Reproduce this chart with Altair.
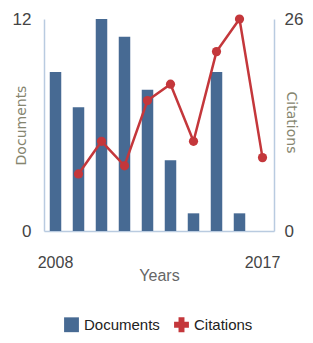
import altair as alt
import pandas as pd

years = [2008, 2009, 2010, 2011, 2012, 2013, 2014, 2015, 2016, 2017]
documents = [9, 7, 12, 11, 8, 4, 1, 9, 1, 0]
citations = [None, 7, 11, 8, 16, 18, 11, 22, 26, 9]
series_names = ["Documents", "Citations"]
series_colors = ["#476a93", "#c4373b"]

df = pd.DataFrame({"Year": years, "Documents": documents, "Citations": citations})

FONT = "Liberation Sans, Arial, sans-serif"
TITLE_FONT = "DejaVu Sans, sans-serif"
AXIS_LINE = "#b9cbe0"

legend_def = alt.Legend(
    title=None, orient="none", direction="horizontal", legendX=20, legendY=298,
    labelFont=FONT, labelFontSize=15, labelColor="#222", symbolSize=220,
    symbolStrokeWidth=0, symbolOpacity=1, columnPadding=14, labelOffset=5, padding=0,
)

x_enc = alt.X(
    "Year:O",
    scale=alt.Scale(paddingInner=0.5, paddingOuter=0.25),
    axis=alt.Axis(
        values=[2008, 2017], labelAngle=0, ticks=False, labelPadding=23,
        labelFont=FONT, labelFontSize=16, labelColor="#444",
        title="Years", titleFont=FONT, titleFontSize=16, titleFontWeight="normal",
        titleColor="#666", titleY=36, titleBaseline="top",
        domainColor=AXIS_LINE, domainWidth=1.5, grid=False,
    ),
)

color_enc = alt.Color(
    "series:N",
    scale=alt.Scale(domain=series_names, range=series_colors),
    legend=legend_def,
)

shape_enc = alt.Shape(
    "series:N",
    scale=alt.Scale(domain=series_names, range=["square", "cross"]),
    legend=legend_def,
)

y_doc = alt.Y(
    "Documents:Q",
    scale=alt.Scale(domain=[0, 12], nice=False),
    axis=alt.Axis(
        orient="left", values=[0, 12], ticks=False, grid=False, labelPadding=13,
        labelFont=FONT, labelFontSize=17, labelColor="#444",
        title="Documents", titleFont=TITLE_FONT, titleFontSize=14, titleFontWeight="normal",
        titleColor="#85856f", titleAngle=270, titleX=-23, titleY=106,
        titleAlign="center", titleBaseline="middle",
        domainColor=AXIS_LINE, domainWidth=1.5,
    ),
)

y_cit = alt.Y(
    "Citations:Q",
    scale=alt.Scale(domain=[0, 26], nice=False),
    axis=alt.Axis(
        orient="right", values=[0, 26], ticks=False, grid=False, labelPadding=10,
        labelFont=FONT, labelFontSize=17, labelColor="#444",
        title="Citations", titleFont=TITLE_FONT, titleFontSize=14, titleFontWeight="normal",
        titleColor="#85856f", titleAngle=90, titleX=16, titleY=103,
        titleAlign="center", titleBaseline="middle",
        domainColor=AXIS_LINE, domainWidth=1.5,
    ),
)

base = alt.Chart(df)

bars = base.transform_calculate(series="'Documents'").mark_bar().encode(
    x=x_enc, y=y_doc, color=color_enc
)

line = base.transform_calculate(series="'Citations'").mark_line(strokeWidth=2.5).encode(
    x=x_enc, y=y_cit, color=color_enc
)
pts = base.transform_calculate(series="'Citations'").mark_circle(size=85, opacity=1).encode(
    x=x_enc, y=y_cit, color=color_enc
)
shp = base.transform_calculate(series="'Citations'").mark_point(filled=True, size=0, opacity=1).encode(
    x=x_enc, y=y_cit, color=color_enc, shape=shape_enc
)

chart = alt.layer(bars, alt.layer(line, pts, shp)).resolve_scale(y="independent").properties(
    width=230, height=212, autosize="none",
    padding={"left": 36, "top": 11, "right": 31, "bottom": 104},
).configure_view(stroke=None)

chart.save("out.html", embed_options={"renderer": "svg", "actions": False})
